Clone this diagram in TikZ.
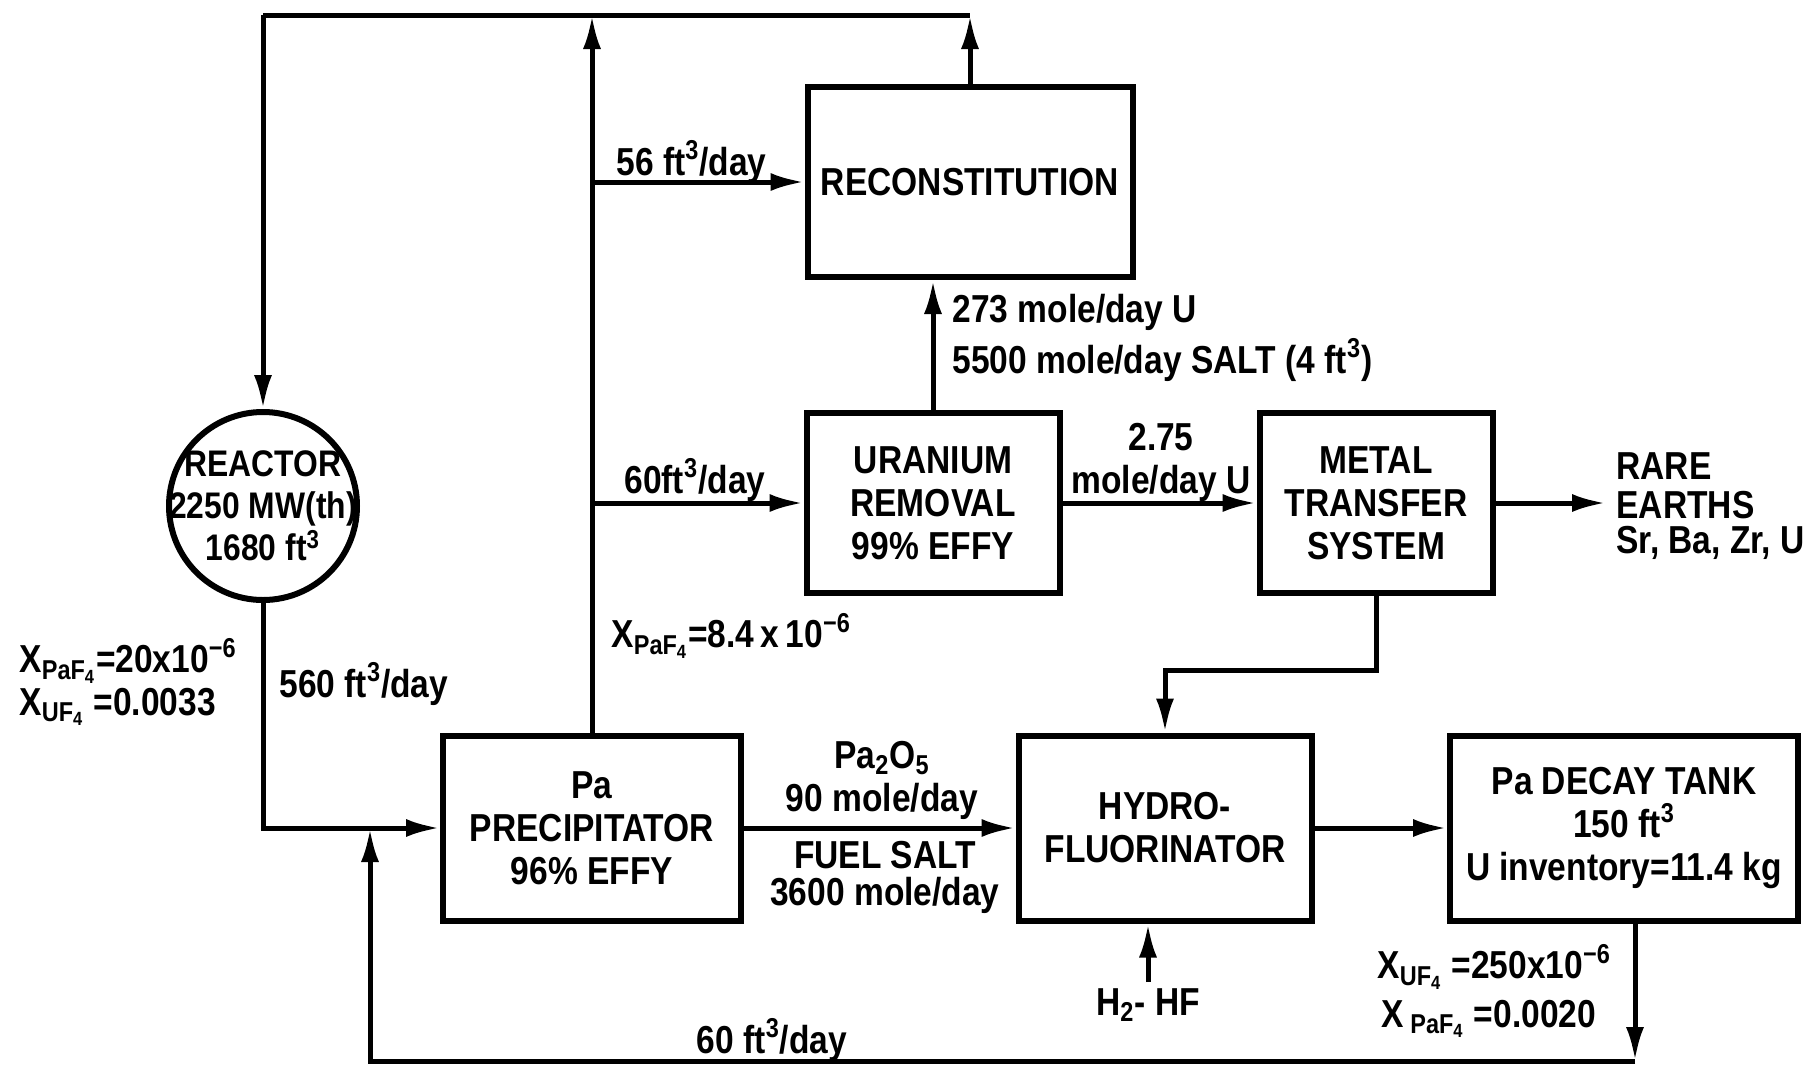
\documentclass[tikz,border=0pt]{standalone}
\usepackage{fontspec}
\setmainfont{Liberation Sans}[FakeStretch=0.86]
\usetikzlibrary{arrows.meta,positioning,calc}
\begin{document}
\begin{tikzpicture}[x=0.5pt,y=-0.5pt,line width=2.5pt,
  >={Latex[length=17pt,width=9pt]},
  every node/.style={font=\bfseries\fontsize{19.5}{21.5}\selectfont},
  unit/.style={draw,line width=3pt,align=center,inner sep=0pt},
  lbl/.style={inner sep=0pt,align=left}]
  \useasboundingbox (0,0) rectangle (1812,1067);
  % Units
  \node[draw,circle,line width=3pt,minimum size=94pt,inner sep=0pt] (reactor) at (263,506) {};
  \node[align=center,inner sep=0pt,font=\bfseries\fontsize{18.5}{21}\selectfont] (rtxt) at (reactor.center) {REACTOR\\2250 MW(th)\\1680 ft\textsuperscript{3}};
  \node[unit,minimum width=162.5pt,minimum height=95pt] (recon) at (970,182) {RECONSTITUTION};
  \node[unit,minimum width=126.5pt,minimum height=90pt] (urem) at (933,503) {URANIUM\\REMOVAL\\99\% EFFY};
  \node[unit,minimum width=116.5pt,minimum height=90pt] (mts) at (1376,503) {METAL\\TRANSFER\\SYSTEM};
  \node[unit,minimum width=149pt,minimum height=92.5pt] (prec) at (592,828) {Pa\\PRECIPITATOR\\96\% EFFY};
  \node[unit,minimum width=146.5pt,minimum height=92.5pt] (hydro) at (1165,828) {HYDRO-\\FLUORINATOR};
  \node[unit,minimum width=174pt,minimum height=92.5pt] (tank) at (1624,828) {Pa DECAY TANK\\150 ft\textsuperscript{3}\\U inventory=11.4 kg};
  % Outputs and feeds
  \node[lbl,anchor=west] (rare) at (1614,466) {RARE};
  \node[lbl,anchor=west] (earths) at (1614,505) {EARTHS};
  \node[lbl,anchor=west] (srba) at (1614,543) {Sr, Ba, Zr, U};
  \node[lbl] (hf) at (1148,1005) {H\textsubscript{2}- HF};
  \coordinate (hfin) at (1148,982);
  % Top loop
  \coordinate (topL) at (263,15);
  \coordinate (topR) at (recon.north |- topL);
  \draw (topL) -- (topR);
  \draw[->] (topL) -- (reactor.north);
  \draw[->] (prec.north) -- (prec.north |- topL);
  \draw[->] (recon.north) -- (topR);
  \draw[->] (prec.north |- recon.west) -- (recon.west);
  \draw[->] (prec.north |- urem.west) -- (urem.west);
  \draw[->] (urem.north) -- (urem.north |- recon.south);
  \draw[->] (urem.east) -- (mts.west);
  \draw[->] (mts.east) -- ($(mts.east -| earths.west)+(-8,0)$);
  \draw[->] (mts.south) -- ++(0,74) -| (hydro.north);
  % Main line
  \draw[->] (reactor.south) |- (prec.west);
  \draw[->] (prec.east) -- (hydro.west);
  \draw[->] (hydro.east) -- (tank.west);
  \draw[->] (hfin) -- (hfin |- hydro.south);
  % Return line
  \coordinate (tb) at ($(tank.south)+(11,0)$);
  \coordinate (ret) at (370,1061);
  \draw[->] (tb) -- (tb |- ret);
  \draw[->] (tb |- ret) -- (ret) -- (ret |- prec.west);
  % Flow labels
  \node[lbl,anchor=west] (q56) at (614,162) {56 ft\textsuperscript{3}/day};
  \node[lbl,anchor=west] (q60a) at (622,480) {60ft\textsuperscript{3}/day};
  \node[lbl,anchor=west] (qU) at (950,312) {273 mole/day U};
  \node[lbl,anchor=west] (qsalt) at (950,360) {5500 mole/day SALT (4 ft\textsuperscript{3})};
  \node[lbl,align=center] (q275) at (1161,462) {2.75\\mole/day U};
  \node[lbl,anchor=west] (xpa1) at (609,636) {X\textsubscript{PaF\textsubscript{4}}=8.4\,x\,10\textsuperscript{−6}};
  \node[lbl,anchor=west] (xpa0) at (17,661) {X\textsubscript{PaF\textsubscript{4}}=20x10\textsuperscript{−6}};
  \node[lbl,anchor=west] (xu0) at (17,707) {X\textsubscript{UF\textsubscript{4}} =0.0033};
  \node[lbl,anchor=west] (q560) at (277,684) {560 ft\textsuperscript{3}/day};
  \node[lbl,align=center] (qpa) at (882,780) {Pa\textsubscript{2}O\textsubscript{5}\\90 mole/day};
  \node[lbl,align=center] (qfuel) at (885,877) {FUEL SALT\\[-3pt]3600 mole/day};
  \node[lbl] (q60b) at (772,1040) {60 ft\textsuperscript{3}/day};
  \node[lbl,anchor=west] (xu1) at (1375,967) {X\textsubscript{UF\textsubscript{4}} =250x10\textsuperscript{−6}};
  \node[lbl,anchor=west] (xpa2) at (1379,1019) {X\,\textsubscript{PaF\textsubscript{4}} =0.0020};
\end{tikzpicture}
\end{document}
